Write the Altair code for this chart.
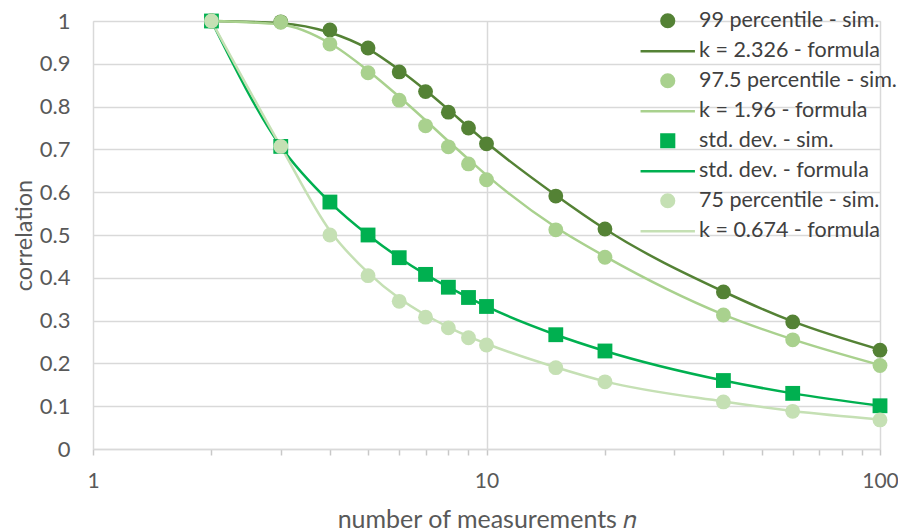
import altair as alt
import pandas as pd

# ---- data ----
n_values = [2, 3, 4, 5, 6, 7, 8, 9, 10, 15, 20, 40, 60, 100]

p99_sim = [1.0, 0.998, 0.979, 0.937, 0.881, 0.835, 0.787, 0.750, 0.713, 0.591, 0.514, 0.367, 0.297, 0.231]
k2326_formula = [1.0, 0.995, 0.973, 0.935, 0.886, 0.838, 0.793, 0.752, 0.716, 0.593, 0.514, 0.368, 0.298, 0.232]
p975_sim = [1.0, 0.997, 0.946, 0.879, 0.815, 0.755, 0.706, 0.666, 0.629, 0.512, 0.448, 0.313, 0.255, 0.195]
k196_formula = [1.0, 0.992, 0.948, 0.884, 0.823, 0.768, 0.719, 0.677, 0.640, 0.518, 0.450, 0.314, 0.256, 0.196]
std_sim = [1.0, 0.707, 0.577, 0.500, 0.447, 0.408, 0.378, 0.354, 0.333, 0.267, 0.229, 0.160, 0.130, 0.101]
std_formula = [1.0, 0.707, 0.577, 0.500, 0.447, 0.408, 0.378, 0.354, 0.333, 0.267, 0.229, 0.160, 0.130, 0.101]
p75_sim = [1.0, 0.707, 0.500, 0.405, 0.345, 0.308, 0.283, 0.260, 0.243, 0.190, 0.157, 0.110, 0.088, 0.068]
k0674_formula = [1.0, 0.707, 0.510, 0.412, 0.352, 0.313, 0.285, 0.263, 0.246, 0.191, 0.158, 0.111, 0.089, 0.069]

series_names = [
    "99 percentile - sim.",
    "k = 2.326 - formula",
    "97.5 percentile - sim.",
    "k = 1.96 - formula",
    "std. dev. - sim.",
    "std. dev. - formula",
    "75 percentile - sim.",
    "k = 0.674 - formula",
]
series_colors = ["#548235", "#548235", "#A9D18E", "#A9D18E",
                 "#00B050", "#00B050", "#C5E0B4", "#C5E0B4"]
LINE_SYMBOL = "M-4.3,0L4.3,0"
series_shapes = ["circle", LINE_SYMBOL, "circle", LINE_SYMBOL,
                 "square", LINE_SYMBOL, "circle", LINE_SYMBOL]

y_ticks = [0, 0.1, 0.2, 0.3, 0.4, 0.5, 0.6, 0.7, 0.8, 0.9, 1.0]
x_ticks = [1, 2, 3, 4, 5, 6, 7, 8, 9, 10, 20, 30, 40, 50, 60, 70, 80, 90, 100]

sim_series = [(series_names[0], p99_sim), (series_names[2], p975_sim),
              (series_names[4], std_sim), (series_names[6], p75_sim)]
formula_series = [(series_names[1], k2326_formula), (series_names[3], k196_formula),
                  (series_names[5], std_formula), (series_names[7], k0674_formula)]

pts_rows, line_rows = [], []
for name, vals in sim_series:
    for n, v in zip(n_values, vals):
        pts_rows.append({"n": n, "r": v, "series": name})
for name, vals in formula_series:
    for n, v in zip(n_values, vals):
        line_rows.append({"n": n, "r": v, "series": name})
pts = pd.DataFrame(pts_rows)
lines = pd.DataFrame(line_rows)

FONT = "Lato"
TXT = "#595959"

legend = alt.Legend(
    title=None, orient="none", legendX=564, legendY=-11,
    labelFont=FONT, labelFontSize=21.5, labelColor="#404040", labelLimit=0,
    labelOffset=20.5, rowPadding=6.5, padding=0,
    symbolSize=160, symbolStrokeWidth=2.5, symbolOpacity=1,
)

x_enc = alt.X("n:Q", scale=alt.Scale(type="log", domain=[1, 100], nice=False),
              axis=alt.Axis(
                  values=x_ticks,
                  labelExpr="datum.value == 1 || datum.value == 10 || datum.value == 100 ? datum.value : ''",
                  title="number of measurements  𝑛",
                  titleFont=FONT, titleFontSize=25, titleFontWeight="normal", titleColor=TXT,
                  titleBaseline="alphabetic", titleY=78,
                  labelFont=FONT, labelFontSize=21, labelColor=TXT, labelPadding=15,
                  labelFlush=False, labelOverlap=False,
                  ticks=True, tickSize=6, tickWidth=1.5, tickColor="#c8c8c8",
                  domain=True, domainColor="#d9d9d9", domainWidth=1.5,
                  grid=True, gridColor="#d9d9d9", gridWidth=1.5,
                  gridOpacity={"condition": {"test": "datum.value == 10 || datum.value == 100", "value": 1}, "value": 0},
              ))
y_enc = alt.Y("r:Q", scale=alt.Scale(domain=[0, 1], nice=False, zero=True),
              axis=alt.Axis(
                  values=y_ticks, format=".1~f",
                  title="correlation",
                  titleFont=FONT, titleFontSize=23.5, titleFontWeight="normal", titleColor=TXT,
                  titleBaseline="alphabetic", titleX=-62,
                  labelFont=FONT, labelFontSize=22, labelColor=TXT, labelPadding=23,
                  ticks=False, domain=True, domainColor="#d9d9d9", domainWidth=1.5,
                  grid=True, gridColor="#d9d9d9", gridWidth=1.5,
              ))

fill_scale = alt.Scale(domain=series_names, range=series_colors)
shape_scale = alt.Scale(domain=series_names, range=series_shapes)

line_layer = alt.Chart(lines).mark_line(strokeWidth=2.5, interpolate="monotone").encode(
    x=x_enc, y=y_enc,
    stroke=alt.Stroke("series:N", scale=fill_scale, legend=legend, sort=series_names),
)

point_layer = alt.Chart(pts).mark_point(filled=True, size=220, opacity=1, strokeWidth=0).encode(
    x=x_enc, y=y_enc,
    fill=alt.Fill("series:N", scale=fill_scale, legend=legend, sort=series_names),
    stroke=alt.Stroke("series:N", scale=fill_scale, legend=legend, sort=series_names),
    shape=alt.Shape("series:N", scale=shape_scale, legend=legend, sort=series_names),
)

chart = alt.layer(line_layer, point_layer).properties(
    width=787, height=428,
    padding={"left": 85, "top": 13, "right": 18, "bottom": 82},
    autosize=alt.AutoSizeParams(type="none"),
).configure_view(stroke="transparent").configure(background="white")

chart.save("out.html", embed_options={"renderer": "svg", "actions": False})
